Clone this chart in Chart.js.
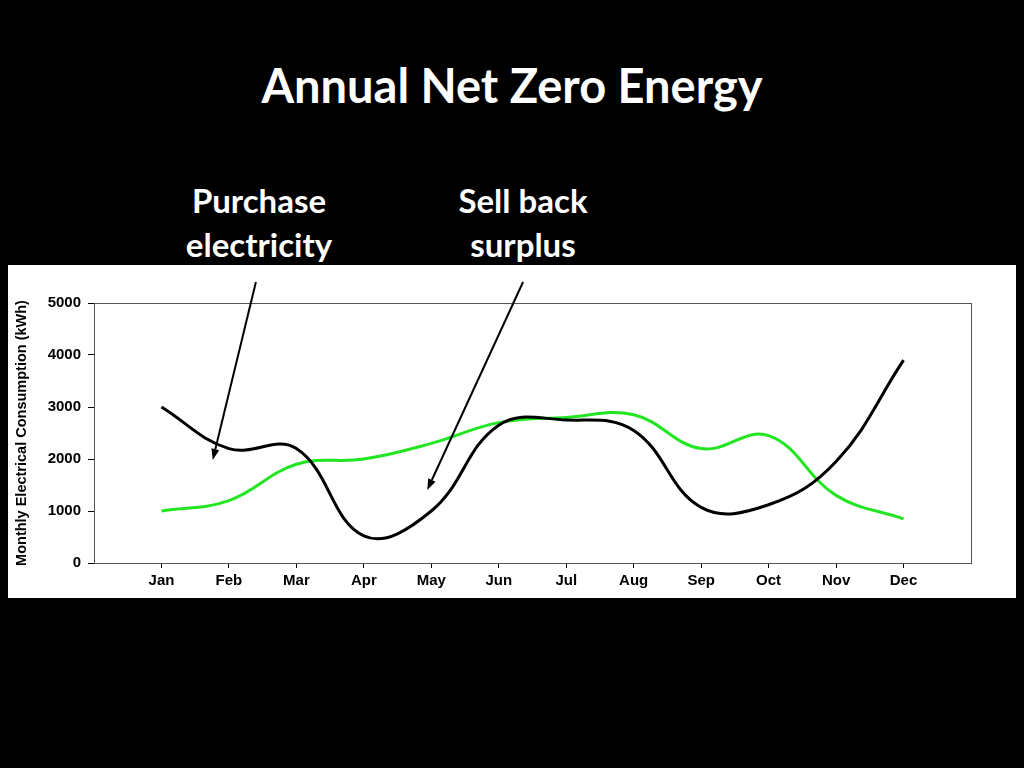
<!DOCTYPE html>
<html>
<head>
<meta charset="utf-8">
<script src="https://cdn.jsdelivr.net/npm/chart.js@4.4.0/dist/chart.umd.min.js"></script>
<style>
  html, body { margin:0; padding:0; background:#000; width:1024px; height:768px; overflow:hidden; }
  .t { position:absolute; color:#fff; font-family:Lato, "Open Sans", sans-serif; font-weight:700; text-align:center; white-space:nowrap; }
  #title { left:0; width:1024px; top:56px; font-size:47px; line-height:58px; }
  .lab { font-size:33px; line-height:44px; width:300px; top:178px; }
  #panel { position:absolute; left:8px; top:265px; width:1008px; height:333px; background:#fff; }
</style>
</head>
<body>
<div id="title" class="t">Annual Net Zero Energy</div>
<div class="t lab" style="left:109px;">Purchase<br>electricity</div>
<div class="t lab" style="left:373px;">Sell back<br>surplus</div>
<div id="panel"><canvas id="c" width="1008" height="333"></canvas></div>
<script>
// ---- data ----
const months = ["Jan","Feb","Mar","Apr","May","Jun","Jul","Aug","Sep","Oct","Nov","Dec"];
const consumption = [3000, 2200, 2200, 520, 1000, 2650, 2750, 2550, 1070, 1120, 1950, 3900];
const production  = [1000, 1200, 1900, 2000, 2300, 2700, 2800, 2850, 2200, 2450, 1300, 850];
const yTicks = [0, 1000, 2000, 3000, 4000, 5000];
const yTitle = "Monthly Electrical Consumption (kWh)";
// annotation arrows in data coordinates: [fromX, fromY, toX, toY]
const arrows = [
  [2.40, 5404, 1.76, 1981],
  [6.36, 5404, 4.94, 1404]
];

const toXY = arr => arr.map((v, i) => ({ x: i + 1, y: v }));

const frame = {
  id: 'frame',
  beforeDatasetsDraw(chart) {
    const a = chart.chartArea, ctx = chart.ctx;
    ctx.save();
    ctx.strokeStyle = '#555';
    ctx.lineWidth = 1;
    ctx.strokeRect(Math.round(a.left) + 0.5, Math.round(a.top) + 0.5, Math.round(a.right - a.left), Math.round(a.bottom - a.top));
    ctx.restore();
  },
  afterDraw(chart) {
    const ctx = chart.ctx, xs = chart.scales.x, ys = chart.scales.y;
    ctx.save();
    ctx.strokeStyle = '#000';
    ctx.fillStyle = '#000';
    ctx.lineWidth = 2;
    arrows.forEach(([x0, y0, x1, y1]) => {
      const px0 = xs.getPixelForValue(x0), py0 = ys.getPixelForValue(y0);
      const px1 = xs.getPixelForValue(x1), py1 = ys.getPixelForValue(y1);
      const ang = Math.atan2(py1 - py0, px1 - px0);
      const L = 11, W = 4;
      const bx = px1 - L * Math.cos(ang), by = py1 - L * Math.sin(ang);
      ctx.beginPath();
      ctx.moveTo(px0, py0);
      ctx.lineTo(bx, by);
      ctx.stroke();
      ctx.beginPath();
      ctx.moveTo(px1, py1);
      ctx.lineTo(bx + W * Math.sin(ang), by - W * Math.cos(ang));
      ctx.lineTo(bx - W * Math.sin(ang), by + W * Math.cos(ang));
      ctx.closePath();
      ctx.fill();
    });
    ctx.restore();
  }
};

new Chart(document.getElementById('c'), {
  type: 'line',
  data: {
    datasets: [
      { label: 'Consumption', data: toXY(consumption), borderColor: '#000', borderWidth: 3, pointRadius: 0, tension: 0.4, fill: false },
      { label: 'Production', data: toXY(production), borderColor: '#22e622', borderWidth: 3, pointRadius: 0, tension: 0.4, fill: false }
    ]
  },
  options: {
    responsive: false,
    animation: false,
    devicePixelRatio: 1,
    layout: { padding: { top: 38, right: 45, left: 0, bottom: 0 } },
    plugins: { legend: { display: false }, tooltip: { enabled: false } },
    scales: {
      x: {
        type: 'linear', min: 0, max: months.length + 1,
        afterBuildTicks: s => { s.ticks = months.map((m, i) => ({ value: i + 1 })); },
        afterFit: s => { s.height = 35; },
        ticks: { callback: v => months[v - 1] ?? '', color: '#000', font: { family: 'Liberation Sans, Arial', weight: 'bold', size: 15 }, padding: 4, maxRotation: 0, autoSkip: false },
        grid: { drawOnChartArea: false, drawTicks: true, tickLength: 5, color: '#000' },
        border: { color: '#000', width: 1 }
      },
      y: {
        min: 0, max: 5000,
        afterBuildTicks: s => { s.ticks = yTicks.map(v => ({ value: v })); },
        afterFit: s => { s.width = 86; },
        ticks: { callback: v => String(v), color: '#000', font: { family: 'Liberation Sans, Arial', weight: 'bold', size: 15 }, padding: 7 },
        grid: { drawOnChartArea: false, drawTicks: true, tickLength: 6, color: '#000' },
        border: { color: '#000', width: 1 },
        title: { display: true, text: yTitle, color: '#000', font: { family: 'Liberation Sans, Arial', weight: 'bold', size: 14.5 }, padding: { top: 5, bottom: 0 } }
      }
    }
  },
  plugins: [frame]
});
</script>
</body>
</html>
